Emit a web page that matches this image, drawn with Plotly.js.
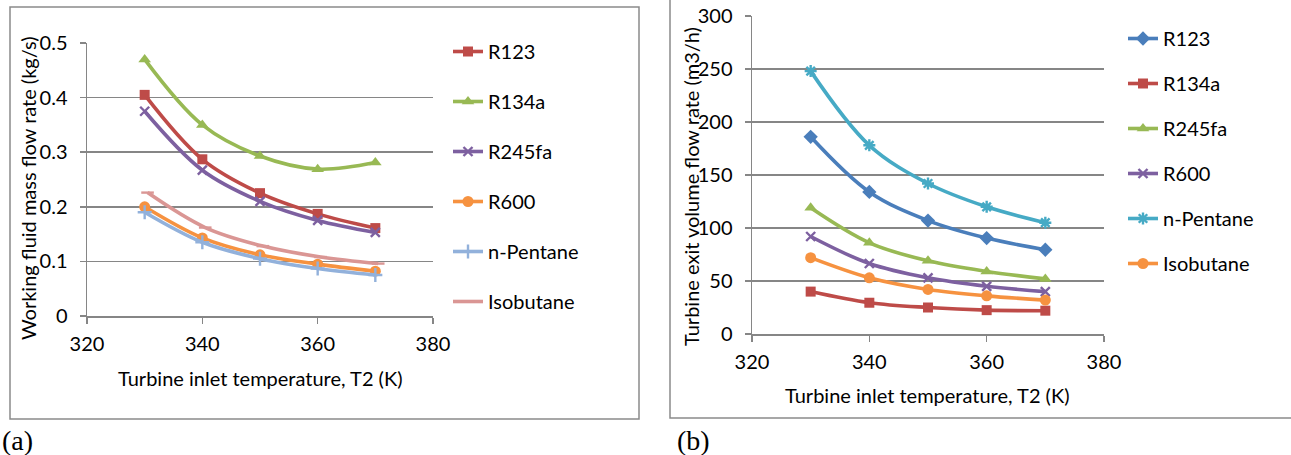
<!DOCTYPE html>
<html>
<head>
<meta charset="utf-8">
<script src="https://cdn.plot.ly/plotly-3.0.1.min.js"></script>
<style>
html,body{margin:0;padding:0;background:#fff;}
#chart{width:1291px;height:455px;}
</style>
</head>
<body>
<div id="chart"></div>
<script>
// ---- Data ----
const temps = [330, 340, 350, 360, 370];
const tempsIsobutaneA = [330.5, 340.5, 350.5, 360.5, 370.5];
const xTicks = [320, 340, 360, 380];

// Panel (a): working fluid mass flow rate (kg/s)
const massR123 = [0.405, 0.287, 0.225, 0.187, 0.161];
const massR134a = [0.470, 0.350, 0.293, 0.269, 0.281];
const massR245fa = [0.375, 0.267, 0.210, 0.175, 0.153];
const massR600 = [0.200, 0.143, 0.112, 0.095, 0.082];
const massPentane = [0.190, 0.135, 0.105, 0.087, 0.075];
const massIsobutane = [0.226, 0.162, 0.128, 0.108, 0.096];

// Panel (b): turbine exit volume flow rate (m3/h)
const volR123 = [186, 134, 107, 90.5, 79.5];
const volR134a = [40, 29.5, 25, 22.5, 22];
const volR245fa = [119, 86, 69, 59, 52];
const volR600 = [92, 66.5, 53, 45, 40];
const volPentane = [248, 178, 142, 120, 105];
const volIsobutane = [72, 53, 42, 36, 32];

const fluidNames = ["R123", "R134a", "R245fa", "R600", "n-Pentane", "Isobutane"];

// ---- Helpers ----
const W = 1291, H = 455;
const px = x => x / W;
const py = y => 1 - y / H;
const FONT = "Lato, 'Open Sans', sans-serif";
const GRID = "#868686";

function trace(name, x, y, color, symbol, size, xa, ya, legend, lineMarker) {
  const m = {symbol: symbol, size: size, color: color};
  if (lineMarker) m.line = {color: color, width: 2.4};
  return {
    type: "scatter", mode: "lines+markers", name: name,
    x: x, y: y, xaxis: xa, yaxis: ya, legend: legend, legendgroup: legend + name,
    line: {color: color, width: 3.6, shape: "spline", smoothing: 1},
    marker: m, cliponaxis: false
  };
}

const c = {
  red: "#BE4B48", green: "#98B954", purple: "#7D60A0", orange: "#F69240",
  lightblue: "#92B1DB", pink: "#DA9694", blue: "#4A7EBB", teal: "#46AAC5"
};

const data = [
  trace(fluidNames[0], temps, massR123, c.red, "square", 10, "x", "y", "legend", false),
  trace(fluidNames[1], temps, massR134a, c.green, "triangle-up", 11, "x", "y", "legend", false),
  trace(fluidNames[2], temps, massR245fa, c.purple, "x-thin", 9, "x", "y", "legend", true),
  trace(fluidNames[3], temps, massR600, c.orange, "circle", 11, "x", "y", "legend", false),
  trace(fluidNames[4], temps, massPentane, c.lightblue, "cross-thin", 10, "x", "y", "legend", true),
  trace(fluidNames[5], tempsIsobutaneA, massIsobutane, c.pink, "line-ew", 9, "x", "y", "legend", true),

  trace(fluidNames[0], temps, volR123, c.blue, "diamond", 11, "x2", "y2", "legend2", false),
  trace(fluidNames[1], temps, volR134a, c.red, "square", 10, "x2", "y2", "legend2", false),
  trace(fluidNames[2], temps, volR245fa, c.green, "triangle-up", 11, "x2", "y2", "legend2", false),
  trace(fluidNames[3], temps, volR600, c.purple, "x-thin", 9, "x2", "y2", "legend2", true),
  trace(fluidNames[4], temps, volPentane, c.teal, "asterisk", 10, "x2", "y2", "legend2", true),
  trace(fluidNames[5], temps, volIsobutane, c.orange, "circle", 11, "x2", "y2", "legend2", false)
];

const xBase = {
  range: [320, 380], tickvals: xTicks, ticks: "outside", ticklen: 6, tickwidth: 1.5,
  tickcolor: GRID, showline: true, linecolor: GRID, linewidth: 1.5, showgrid: false,
  zeroline: false, tickfont: {family: FONT, size: 20, color: "#000"}, fixedrange: true,
  ticklabelstandoff: 3
};
const yBase = {
  ticks: "outside", ticklen: 6, tickwidth: 1.5, tickcolor: GRID, showline: true,
  linecolor: GRID, linewidth: 1.5, showgrid: true, gridcolor: GRID, gridwidth: 1.5,
  zeroline: false, tickfont: {family: FONT, size: 20, color: "#000"}, fixedrange: true,
  ticklabelstandoff: 8
};

const legendBase = {
  font: {family: FONT, size: 20, color: "#000"}, bgcolor: "rgba(0,0,0,0)",
  traceorder: "grouped", xanchor: "left", yanchor: "top", itemwidth: 30
};

const titleFont = {family: FONT, size: 20, color: "#000"};
const panelFont = {family: "'Liberation Serif', 'DejaVu Serif', serif", size: 28, color: "#000"};

const layout = {
  width: W, height: H, margin: {l: 0, r: 0, t: 0, b: 0},
  paper_bgcolor: "#fff", plot_bgcolor: "rgba(0,0,0,0)",
  font: {family: FONT, color: "#000"},
  xaxis: Object.assign({}, xBase, {domain: [px(87), px(433)], anchor: "y"}),
  yaxis: Object.assign({}, yBase, {domain: [py(316), py(43)], anchor: "x", range: [0, 0.5], dtick: 0.1, tickformat: ".1~f"}),
  xaxis2: Object.assign({}, xBase, {domain: [px(752), px(1104)], anchor: "y2"}),
  yaxis2: Object.assign({}, yBase, {domain: [py(334), py(16)], anchor: "x2", range: [0, 300], dtick: 50}),
  legend: Object.assign({}, legendBase, {x: px(448), y: py(32), tracegroupgap: 21}),
  legend2: Object.assign({}, legendBase, {x: px(1123), y: py(19), tracegroupgap: 16}),
  shapes: [
    {type: "rect", xref: "paper", yref: "paper", x0: px(10), x1: px(639), y0: py(419), y1: py(7),
     line: {color: "#8a8a8a", width: 1.5}},
    {type: "rect", xref: "paper", yref: "paper", x0: px(670), x1: px(1300), y0: py(418), y1: py(-5),
     line: {color: "#8a8a8a", width: 1.5}}
  ],
  annotations: [
    {text: "Working fluid mass flow rate (kg/s)", xref: "paper", yref: "paper", x: px(28), y: py(188),
     xanchor: "center", yanchor: "middle", textangle: -90, showarrow: false, font: titleFont},
    {text: "Turbine inlet temperature, T2 (K)", xref: "paper", yref: "paper", x: px(260), y: py(378),
     xanchor: "center", yanchor: "middle", showarrow: false, font: titleFont},
    {text: "Turbine exit volume flow rate (m3/h)", xref: "paper", yref: "paper", x: px(691), y: py(187),
     xanchor: "center", yanchor: "middle", textangle: -90, showarrow: false, font: titleFont},
    {text: "Turbine inlet temperature, T2 (K)", xref: "paper", yref: "paper", x: px(927), y: py(395),
     xanchor: "center", yanchor: "middle", showarrow: false, font: titleFont},
    {text: "(a)", xref: "paper", yref: "paper", x: px(0), y: py(440), xanchor: "left", yanchor: "middle",
     showarrow: false, font: panelFont},
    {text: "(b)", xref: "paper", yref: "paper", x: px(675), y: py(440), xanchor: "left", yanchor: "middle",
     showarrow: false, font: panelFont}
  ],
  showlegend: true
};

Plotly.newPlot("chart", data, layout, {displayModeBar: false, staticPlot: true});
</script>
</body>
</html>
